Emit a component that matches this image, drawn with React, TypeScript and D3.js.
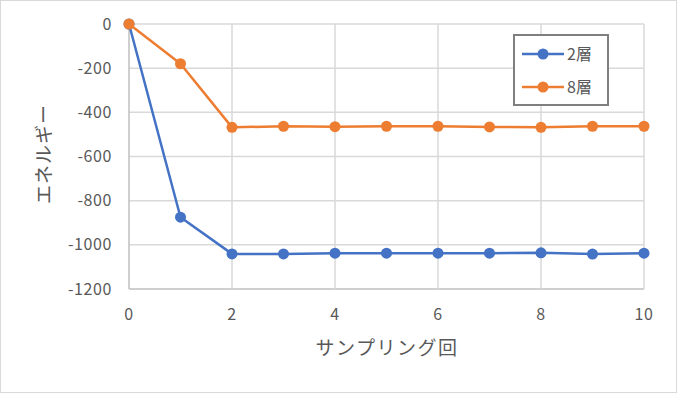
import React, { useEffect, useRef } from 'react';
import * as d3 from 'd3';

const samples = [0, 1, 2, 3, 4, 5, 6, 7, 8, 9, 10];
const layer2 = [0, -875, -1041, -1041, -1038, -1038, -1038, -1038, -1036, -1042, -1038];
const layer8 = [0, -180, -468, -463, -465, -463, -463, -466, -468, -463, -463];
const yTicks = [0, -200, -400, -600, -800, -1000, -1200];
const xTicks = [0, 2, 4, 6, 8, 10];

const seriesList = [
  { name: '2層', values: layer2, color: '#4472C4' },
  { name: '8層', values: layer8, color: '#ED7D31' },
];

const W = 677;
const H = 393;
const FONT = '"Noto Sans CJK JP", "Noto Sans", sans-serif';
const TEXT = '#595959';

const App: React.FC = () => {
  const svgRef = useRef<SVGSVGElement>(null);

  useEffect(() => {
    if (!svgRef.current) return;
    const svg = d3.select(svgRef.current);
    svg.selectAll('*').remove();

    // chart frame
    svg.append('rect')
      .attr('x', 0.5).attr('y', 0.5)
      .attr('width', W - 1).attr('height', H - 1)
      .attr('fill', '#fff')
      .attr('stroke', '#d9d9d9');

    const x = d3.scaleLinear().domain([0, 10]).range([129, 644]);
    const y = d3.scaleLinear().domain([-1200, 0]).range([289, 24]);

    // horizontal gridlines
    yTicks.forEach(t => {
      svg.append('line')
        .attr('x1', x(0)).attr('x2', x(10))
        .attr('y1', y(t)).attr('y2', y(t))
        .attr('stroke', t === -1200 ? '#bfbfbf' : '#d9d9d9')
        .attr('stroke-width', 1.5);
    });

    // vertical gridlines
    xTicks.forEach(t => {
      svg.append('line')
        .attr('x1', x(t)).attr('x2', x(t))
        .attr('y1', y(0)).attr('y2', y(-1200))
        .attr('stroke', t === 0 ? '#bfbfbf' : '#d9d9d9')
        .attr('stroke-width', 1.5);
    });

    // y tick labels
    yTicks.forEach(t => {
      svg.append('text')
        .attr('x', 112).attr('y', y(t))
        .attr('dy', '0.35em')
        .attr('text-anchor', 'end')
        .attr('font-family', FONT)
        .attr('font-size', 16)
        .attr('letter-spacing', 0.6)
        .attr('fill', TEXT)
        .text(t);
    });

    // x tick labels
    xTicks.forEach(t => {
      svg.append('text')
        .attr('x', x(t)).attr('y', 314)
        .attr('dy', '0.35em')
        .attr('text-anchor', 'middle')
        .attr('font-family', FONT)
        .attr('font-size', 16)
        .attr('letter-spacing', 0.6)
        .attr('fill', TEXT)
        .text(t);
    });

    // axis titles
    svg.append('text')
      .attr('x', 387).attr('y', 348)
      .attr('dy', '0.35em')
      .attr('text-anchor', 'middle')
      .attr('font-family', FONT)
      .attr('font-size', 19)
      .attr('letter-spacing', 1.5)
      .attr('fill', TEXT)
      .text('サンプリング回');

    svg.append('text')
      .attr('transform', `translate(44,154) rotate(-90)`)
      .attr('dy', '0.35em')
      .attr('text-anchor', 'middle')
      .attr('font-family', FONT)
      .attr('font-size', 19)
      .attr('letter-spacing', 1)
      .attr('fill', TEXT)
      .text('エネルギー');

    const line = d3.line<number>()
      .x((_, i) => x(samples[i]))
      .y(d => y(d));

    seriesList.forEach(s => {
      svg.append('path')
        .datum(s.values)
        .attr('d', line)
        .attr('fill', 'none')
        .attr('stroke', s.color)
        .attr('stroke-width', 2.5)
        .attr('stroke-linejoin', 'round');

      svg.selectAll(null)
        .data(s.values)
        .enter()
        .append('circle')
        .attr('cx', (_, i) => x(samples[i]))
        .attr('cy', d => y(d))
        .attr('r', 5.5)
        .attr('fill', s.color);
    });

    // legend
    const lg = svg.append('g');
    lg.append('rect')
      .attr('x', 514).attr('y', 35)
      .attr('width', 94).attr('height', 70)
      .attr('fill', '#fff')
      .attr('stroke', '#7f7f7f')
      .attr('stroke-width', 2);

    seriesList.forEach((s, i) => {
      const ly = 54 + i * 33;
      lg.append('line')
        .attr('x1', 522).attr('x2', 564)
        .attr('y1', ly).attr('y2', ly)
        .attr('stroke', s.color)
        .attr('stroke-width', 2.5);
      lg.append('circle')
        .attr('cx', 543).attr('cy', ly)
        .attr('r', 5.5)
        .attr('fill', s.color);
      lg.append('text')
        .attr('x', 567).attr('y', ly)
        .attr('dy', '0.35em')
        .attr('font-family', FONT)
        .attr('font-size', 16)
        .attr('fill', TEXT)
        .text(s.name);
    });
  }, []);

  return (
    <svg
      ref={svgRef}
      width={W}
      height={H}
      style={{ display: 'block', position: 'absolute', left: 0, top: 0 }}
    />
  );
};

export default App;
